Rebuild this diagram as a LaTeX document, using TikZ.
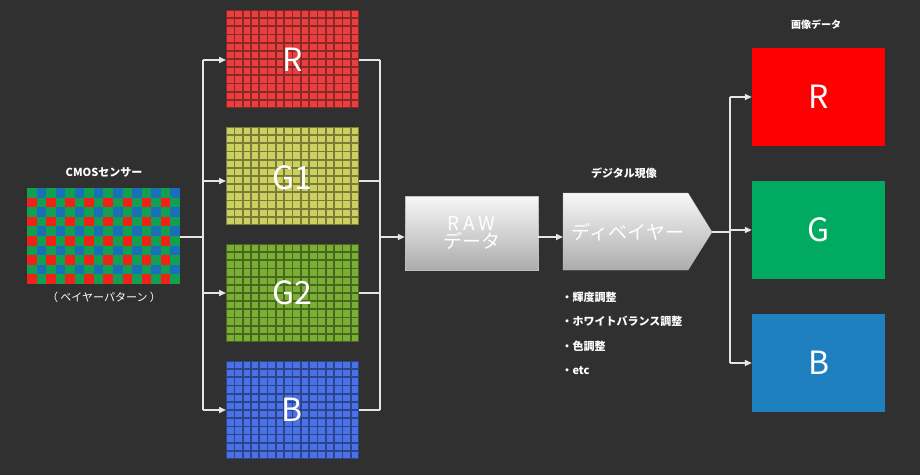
\documentclass[tikz,border=0pt]{standalone}
\usepackage{fontspec}
\setmainfont{Noto Sans CJK JP}
\usetikzlibrary{positioning,arrows.meta,calc,shapes.symbols}
\definecolor{bg}{HTML}{303030}
\definecolor{bred}{HTML}{F0201A}
\definecolor{bgreen}{HTML}{10A050}
\definecolor{bblue}{HTML}{1A70B8}
\definecolor{cR}{HTML}{E84040}
\definecolor{cGa}{HTML}{CCD060}
\definecolor{cGb}{HTML}{7AAE34}
\definecolor{cB}{HTML}{4A72E6}
\definecolor{oR}{HTML}{FF0000}
\definecolor{oG}{HTML}{00AA60}
\definecolor{oB}{HTML}{1F80C0}
\newcommand{\chgrid}[3]{%
  \fill[#3!60!black] (#1,#2) rectangle ++(133,98);
  \foreach \i in {0,...,15}{\foreach \j in {0,...,11}{%
    \fill[#3] ($(#1,#2)+(\i*8.31+0.9,\j*8.17+0.9)$) rectangle ++(6.6,6.4);}}}
\begin{document}
\begin{tikzpicture}[x=1pt,y=-1pt,
  wire/.style={draw=white!90!black, line width=1.6pt},
  arr/.style={wire, -{Triangle[length=7pt,width=6pt]}},
  lbl/.style={text=white, font=\bfseries\fontsize{11}{13}\selectfont},
  bigl/.style={text=white, font=\fontsize{32}{34}\selectfont},
  grayb/.style={draw=gray!50, top color=white!97!black, bottom color=gray!65, text=white, font=\fontsize{19}{22}\selectfont, align=center}]
\fill[bg] (0,0) rectangle (920,475);
% bayer sensor
\foreach \i in {0,...,15}{\foreach \j in {0,...,9}{%
  \pgfmathtruncatemacro\p{mod(\i+\j,2)}
  \pgfmathtruncatemacro\r{mod(\j,2)}
  \ifnum\p=0 \def\cc{bgreen}\else\ifnum\r=0 \def\cc{bblue}\else\def\cc{bred}\fi\fi
  \fill[\cc] (27+\i*9.56,188+\j*9.6) rectangle ++(9.56,9.6);}}
\node[coordinate] (bay) at (180,237) {};
\node[lbl] (cmos) at (104,172) {CMOSセンサー};
\node[lbl, font=\fontsize{11}{13}\selectfont] (bayer) at (104,297) {（ ベイヤーパターン ）};
% channel grids
\chgrid{226}{10}{cR}
\chgrid{226}{127}{cGa}
\chgrid{226}{244}{cGb}
\chgrid{226}{361}{cB}
\node[bigl] (chR) at (292.5,60) {R};
\node[bigl] (chGa) at (292.5,178) {G1};
\node[bigl] (chGb) at (292.5,293) {G2};
\node[bigl] (chB) at (292.5,410) {B};
\node[coordinate] (split) at (203,237) {};
\node[coordinate] (join) at (380,237) {};
\draw[wire] (bay) -- (split);
\foreach \y in {60,181,293,410}{%
  \draw[arr] (split |- 0,\y) -- (226,\y);
  \draw[wire] (359,\y) -- (join |- 0,\y);}
\draw[wire] (split |- 0,60) -- (split |- 0,410);
\draw[wire] (join |- 0,60) -- (join |- 0,410);
% raw and debayer
\node[grayb, minimum width=133pt, minimum height=74pt, inner sep=0pt] (raw) at (471.5,233) {\addfontfeatures{LetterSpace=20}RAW\\[-4pt]データ};
\draw[arr] (join) -- (join -| raw.west);
\path[grayb, draw=gray!50] (563,193) -- (688,193) -- (712,232) -- (688,270) -- (563,270) -- cycle;
\node[text=white, font=\fontsize{19}{22}\selectfont] (deb) at (628,232) {ディベイヤー};
\node[coordinate] (debin) at (563,237) {};
\node[coordinate] (debout) at (712,232) {};
\draw[arr] (debin -| raw.east) -- (debin);
\node[lbl] (dig) at (624,173) {デジタル現像};
\foreach \t [count=\k from 0] in {輝度調整,ホワイトバランス調整,色調整,etc}
  \node[lbl, anchor=west] (it\k) at (558,297+\k*24.7) {・\t};
% output
\node[coordinate] (fan) at (730,232) {};
\draw[wire] (debout) -- (fan);
\draw[wire] (fan |- 0,97) -- (fan |- 0,363);
\node[lbl, font=\bfseries\fontsize{10}{12}\selectfont] (img) at (816,25) {画像データ};
\foreach \c/\l/\y in {oR/R/97,oG/G/230,oB/B/363}{%
  \node[fill=\c, minimum width=133pt, minimum height=98pt, bigl] (out\l) at (818.5,\y) {\l};
  \draw[arr] (fan |- 0,\y) -- (out\l.west);}
\end{tikzpicture}
\end{document}
